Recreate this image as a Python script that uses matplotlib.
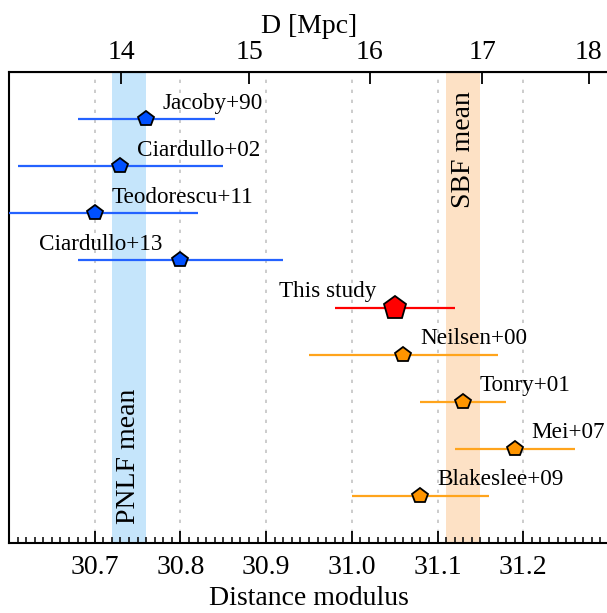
import numpy as np
import matplotlib
matplotlib.use("Agg")
import matplotlib.pyplot as plt

# distance measurements (distance modulus) for the cluster
names = ["Jacoby+90", "Ciardullo+02", "Teodorescu+11", "Ciardullo+13",
         "This study", "Neilsen+00", "Tonry+01", "Mei+07", "Blakeslee+09"]
mu = [30.76, 30.73, 30.70, 30.80, 31.05, 31.06, 31.13, 31.19, 31.08]
mu_err = [0.08, 0.12, 0.12, 0.12, 0.07, 0.11, 0.05, 0.07, 0.08]
method = ["PNLF", "PNLF", "PNLF", "PNLF", "this", "SBF", "SBF", "SBF", "SBF"]
label_side = ["r", "r", "r", "l", "l", "r", "r", "r", "r"]
ypos = [9, 8, 7, 6, 5, 4, 3, 2, 1]

pnlf_band = (30.72, 30.76)
sbf_band = (31.11, 31.15)
d_ticks = [14, 15, 16, 17, 18]

plt.rcParams['font.family'] = ['Liberation Serif', 'DejaVu Serif']
plt.rcParams['font.size'] = 20

W, H = 607, 613
fig = plt.figure(figsize=(W / 100, H / 100), dpi=100)
ax = fig.add_axes([9 / W, 1 - 542.7 / H, 600 / W, 470.4 / H])

line_col = {"PNLF": "#2462ff", "SBF": "#ffa41c", "this": "#ff0000"}
face_col = {"PNLF": "#0050ff", "SBF": "#ff9500", "this": "#ff0000"}

ax.axvspan(*pnlf_band, color="#c5e5fb", lw=0, zorder=0)
ax.axvspan(*sbf_band, color="#fde1c5", lw=0, zorder=0)

for n, m, e, k, s, y in zip(names, mu, mu_err, method, label_side, ypos):
    ms = 17 if k == "this" else 11.5
    ax.errorbar(m, y, xerr=e, fmt="p", color=line_col[k], mfc=face_col[k],
                mec="black", mew=1.3, ms=ms, elinewidth=1.6, capsize=0, zorder=3)
    if s == "r":
        ax.annotate(n, (m, y), xytext=(12, 11.5), textcoords="offset points",
                    ha="left", va="center", fontsize=16.7)
    else:
        ax.annotate(n, (m, y), xytext=(-13, 11.5), textcoords="offset points",
                    ha="right", va="center", fontsize=16.7)

ax.text(np.mean(sbf_band), 9.6, "SBF mean", rotation=90, ha="center", va="top")
ax.text(np.mean(pnlf_band), 0.4, "PNLF mean", rotation=90, ha="center", va="bottom")

ax.set_xlim(30.6, 31.3)
ax.set_ylim(0, 10)
ax.set_yticks([])
ax.set_xticks(np.arange(30.7, 31.25, 0.1))
ax.set_xticklabels(["30.7", "30.8", "30.9", "31.0", "31.1", "31.2"])
ax.set_xticks(np.arange(30.6, 31.3001, 0.01), minor=True)
ax.tick_params(axis="x", which="major", direction="in", length=8.5, width=1.3, pad=9)
ax.tick_params(axis="x", which="minor", direction="in", length=4, width=1.1)
ax.grid(axis="x", which="major", ls=(0, (2, 4)), color="#c4c4c4", lw=1.2)
ax.set_xlabel("Distance modulus", labelpad=4)
for sp in ax.spines.values():
    sp.set_linewidth(1.5)

top = ax.secondary_xaxis("top", functions=(lambda x: 10 ** ((x - 25) / 5),
                                            lambda d: 5 * np.log10(d) + 25))
top.set_xticks(d_ticks)
top.tick_params(axis="x", which="major", direction="in", length=8.5, width=1.3, pad=5.5)
top.tick_params(axis="x", which="minor", length=0)
top.set_xlabel("D [Mpc]", labelpad=5)

fig.savefig("out.png", dpi=100)
